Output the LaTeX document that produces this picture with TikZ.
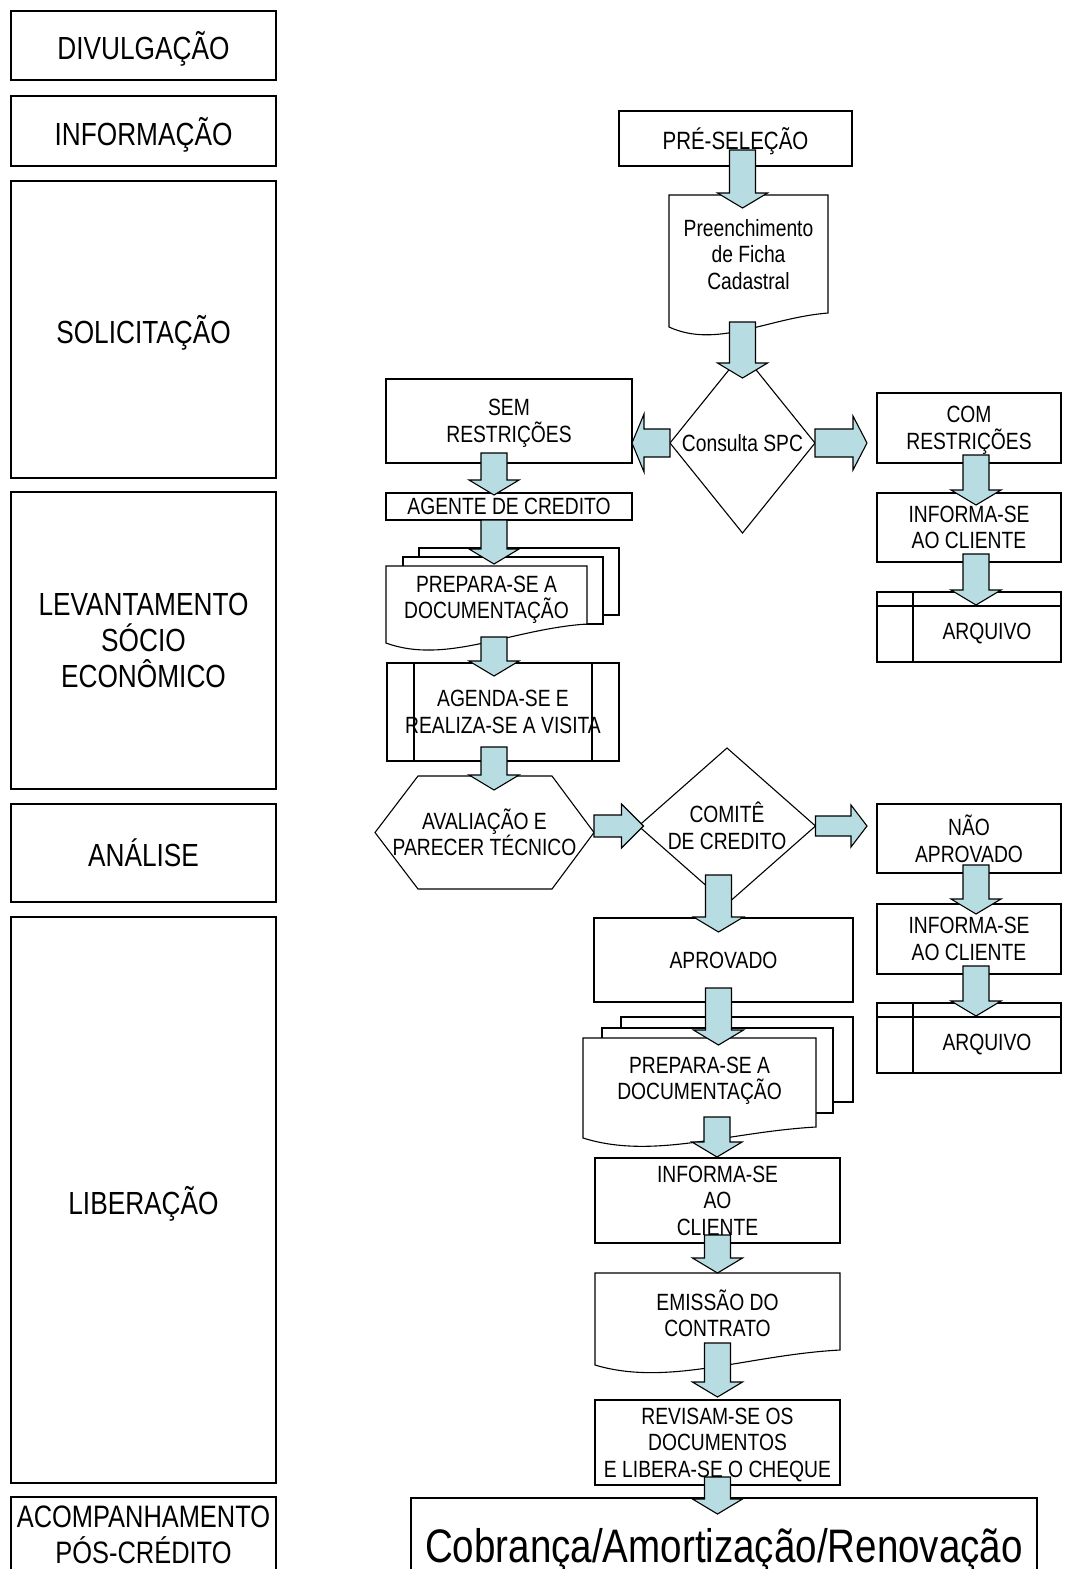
\documentclass[tikz,border=0pt]{standalone}
\usepackage{fontspec}
\setmainfont{Liberation Sans}[FakeStretch=0.82]
\usetikzlibrary{calc,shapes.geometric}
\definecolor{arrowfill}{RGB}{183,221,227}
\tikzset{
  box/.style={draw, line width=1.1pt, fill=white, outer sep=0pt, inner sep=0pt, align=center,
    text depth=-2pt, font=\fontsize{23.5}{26.5}\selectfont},
  stage/.style={box, minimum width=265, text depth=0pt, font=\fontsize{32}{36}\selectfont},
  txt/.style={inner sep=0pt, outer sep=0pt, align=center, font=\fontsize{23.5}{26.5}\selectfont},
  decision/.style={draw, diamond, line width=1.1pt, inner sep=0pt, outer sep=0pt, align=center,
    font=\fontsize{23.5}{26.5}\selectfont},
  page/.style={line width=1.1pt, fill=white},
  blockarrow/.style={draw, line width=1.1pt, fill=arrowfill},
}
% fat arrows: start point, tip point (and sizes for the sideways ones)
\newcommand{\dblock}[2]{%
  \draw[blockarrow] let \p1=#1, \p2=#2 in
    (\x1-13pt,\y1) -- (\x1+13pt,\y1) -- (\x1+13pt,\y2+15pt) -- (\x1+25pt,\y2+15pt)
    -- (\x1,\y2) -- (\x1-25pt,\y2+15pt) -- (\x1-13pt,\y2+15pt) -- cycle;
}
\newcommand{\rblock}[5]{%
  \draw[blockarrow] let \p1=#1, \p2=#2 in
    (\x1,\y1+#3pt) -- (\x2-#5pt,\y1+#3pt) -- (\x2-#5pt,\y1+#4pt) -- (\x2,\y1)
    -- (\x2-#5pt,\y1-#4pt) -- (\x2-#5pt,\y1-#3pt) -- (\x1,\y1-#3pt) -- cycle;
}
\newcommand{\lblock}[5]{%
  \draw[blockarrow] let \p1=#1, \p2=#2 in
    (\x1,\y1+#3pt) -- (\x2+#5pt,\y1+#3pt) -- (\x2+#5pt,\y1+#4pt) -- (\x2,\y1)
    -- (\x2+#5pt,\y1-#4pt) -- (\x2+#5pt,\y1-#3pt) -- (\x1,\y1-#3pt) -- cycle;
}
\begin{document}
\begin{tikzpicture}[x=1pt,y=-1pt]
    \useasboundingbox (0,0) rectangle (1067,1569);
    % stages
    \node[stage, minimum height=69] (divulg) at (143.5,45.5) {DIVULGAÇÃO};
    \node[stage, minimum height=70] (inform) at (143.5,131) {INFORMAÇÃO};
    \node[stage, minimum height=297] (solic) at (143.5,329.5) {SOLICITAÇÃO};
    \node[stage, minimum height=297] (levant) at (143.5,640.5) {LEVANTAMENTO\\SÓCIO\\ECONÔMICO};
    \node[stage, minimum height=98] (analise) at (143.5,853) {ANÁLISE};
    \node[stage, minimum height=566] (libera) at (143.5,1200) {LIBERAÇÃO};
    \node[stage, minimum height=76, font=\fontsize{31}{36}\selectfont] (acomp) at (143.5,1535) {ACOMPANHAMENTO\\PÓS-CRÉDITO};

    % main flow
    \node[box, minimum width=233, minimum height=55, font=\fontsize{25}{28}\selectfont] (pre) at (735.5,138.5) {PRÉ-SELEÇÃO};
    \draw[page] (669,327) -- (669,195) -- (828,195) -- (828,313) .. controls (767,318) and (717,349) .. (669,327) -- cycle;
    \node[txt, minimum width=159, minimum height=119] (ficha) at (748.5,254.5) {Preenchimento\\de Ficha\\Cadastral};
    \node[decision, minimum width=145, minimum height=180, aspect=0.8] (cons) at (742.5,443) {Consulta SPC};

    \node[box, minimum width=246, minimum height=84] (sem) at (509,421) {SEM\\RESTRIÇÕES};
    \node[box, minimum width=246, minimum height=27] (agente) at (509,506.5) {AGENTE DE CREDITO};
    \draw[page] (419,548) rectangle (619,615);
    \draw[page] (403,557) rectangle (603,624);
    \draw[page] (386,643) -- (386,566) -- (587,566) -- (587,624) .. controls (511,629) and (446,665) .. (386,643) -- cycle;
    \node[txt, minimum width=201, minimum height=68] (prep1) at (486.5,600) {PREPARA-SE A\\DOCUMENTAÇÃO};
    \node[box, minimum width=232, minimum height=98] (agenda) at (503,712) {AGENDA-SE E\\REALIZA-SE A VISITA};
    \draw[line width=1.1pt] ($(agenda.north west)+(27,0)$) -- ($(agenda.south west)+(27,0)$);
    \draw[line width=1.1pt] ($(agenda.north east)+(-27,0)$) -- ($(agenda.south east)+(-27,0)$);
    \node[txt, minimum width=219, minimum height=113] (aval) at (484.5,832.5) {AVALIAÇÃO E\\PARECER TÉCNICO};
    \draw[line width=1.1pt] (aval.west) -- ($(aval.north west)+(43,0)$) -- ($(aval.north east)+(-42,0)$)
        -- (aval.east) -- ($(aval.south east)+(-42,0)$) -- ($(aval.south west)+(43,0)$) -- cycle;
    \node[decision, minimum width=177, minimum height=156, aspect=1.13] (comite) at (727,826) {COMITÊ\\DE CREDITO};

    % right branch
    \node[box, minimum width=184, minimum height=70] (com) at (969,428) {COM\\RESTRIÇÕES};
    \node[box, minimum width=184, minimum height=69] (inf1) at (969,527.5) {INFORMA-SE\\AO CLIENTE};
    \node[box, minimum width=184, minimum height=70] (arq1) at (969,627) {};
    \draw[line width=1.1pt] ($(arq1.north west)+(36,0)$) -- ($(arq1.south west)+(36,0)$);
    \draw[line width=1.1pt] ($(arq1.north west)+(0,14)$) -- ($(arq1.north east)+(0,14)$);
    \node[txt] (arq1txt) at ($(arq1.center)+(18,7)$) {ARQUIVO};
    \node[box, minimum width=184, minimum height=69] (nao) at (969,838.5) {NÃO\\APROVADO};
    \node[box, minimum width=184, minimum height=70] (inf2) at (969,939) {INFORMA-SE\\AO CLIENTE};
    \node[box, minimum width=184, minimum height=70] (arq2) at (969,1038) {};
    \draw[line width=1.1pt] ($(arq2.north west)+(36,0)$) -- ($(arq2.south west)+(36,0)$);
    \draw[line width=1.1pt] ($(arq2.north west)+(0,14)$) -- ($(arq2.north east)+(0,14)$);
    \node[txt] (arq2txt) at ($(arq2.center)+(18,7)$) {ARQUIVO};

    % liberacao
    \node[box, minimum width=259, minimum height=84] (aprov) at (723.5,960) {APROVADO};
    \draw[page] (621,1017) rectangle (853,1102);
    \draw[page] (602,1028) rectangle (833,1113);
    \draw[page] (583,1138) -- (583,1038) -- (816,1038) -- (816,1127) .. controls (727,1132) and (653,1160) .. (583,1138) -- cycle;
    \node[txt, minimum width=233, minimum height=86] (prep2) at (699.5,1081) {PREPARA-SE A\\DOCUMENTAÇÃO};
    \node[box, minimum width=245, minimum height=85] (inf3) at (717.5,1200.5) {INFORMA-SE\\AO\\CLIENTE};
    \draw[page] (595,1365) -- (595,1273) -- (840,1273) -- (840,1350) .. controls (747,1355) and (668,1387) .. (595,1365) -- cycle;
    \node[txt, minimum width=245, minimum height=81] (emis) at (717.5,1313.5) {EMISSÃO DO\\CONTRATO};
    \node[box, minimum width=245, minimum height=85] (rev) at (717.5,1442.5) {REVISAM-SE OS\\DOCUMENTOS\\E LIBERA-SE O CHEQUE};
    \node[box, minimum width=626, minimum height=94, font=\fontsize{47}{50}\selectfont] (cob) at (724,1545) {Cobrança/Amortização/Renovação};

    % arrows
    \dblock{($(pre.south)+(7,-16)$)}{($(ficha.north)+(0,13)$)}
    \dblock{($(ficha.south)+(-6,8)$)}{($(cons.north)+(0,25)$)}
    \lblock{(cons.west)}{(sem.east)}{14}{29}{12}
    \rblock{(cons.east)}{($(com.west)+(-10,0)$)}{14}{27}{14}
    \dblock{($(sem.south)+(-15,-10)$)}{($(agente.north)+(0,2)$)}
    \dblock{($(agente.south)+(-15,0)$)}{($(prep1.north)+(0,-2)$)}
    \dblock{($(prep1.south)+(7.5,3)$)}{($(agenda.north)+(0,13)$)}
    \dblock{($(agenda.south)+(-9,-14)$)}{($(aval.north)+(0,14)$)}
    \rblock{(aval.east |- comite.west)}{($(comite.west)+(5,0)$)}{11}{22}{22}
    \rblock{(comite.east)}{($(nao.west)+(-10,0)$)}{10}{21}{16}
    \dblock{($(com.south)+(7,-8)$)}{($(inf1.north)+(0,12)$)}
    \dblock{($(inf1.south)+(7,-8)$)}{($(arq1.north)+(0,13)$)}
    \dblock{($(nao.south)+(7,-8)$)}{($(inf2.north)+(0,10)$)}
    \dblock{($(inf2.south)+(7,-8)$)}{($(arq2.north)+(0,13)$)}
    \dblock{($(comite.south)+(-8.5,-29)$)}{($(aprov.north)+(0,14)$)}
    \dblock{($(aprov.south)+(-5,-14)$)}{($(prep2.north)+(0,7)$)}
    \dblock{($(prep2.south)+(17.5,-7)$)}{($(inf3.north)+(0,-1)$)}
    \dblock{($(inf3.south)+(0,-8)$)}{(emis.north)}
    \dblock{($(emis.south)+(0,-11)$)}{($(rev.north)+(0,-3)$)}
    \dblock{($(rev.south)+(0,-8)$)}{($(cob.north)+(0,16)$)}
\end{tikzpicture}
\end{document}
